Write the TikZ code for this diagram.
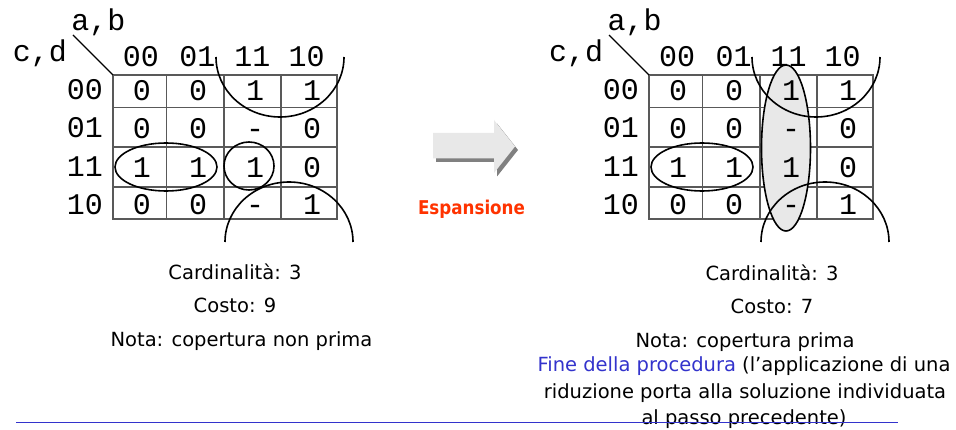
\documentclass[tikz,border=0pt]{standalone}
\usepackage{fontspec}
\setmainfont{DejaVu Sans}
\newfontfamily\monof{Liberation Mono}
\definecolor{ored}{HTML}{FF3300}
\definecolor{fblue}{HTML}{3333CC}
\definecolor{gfill}{HTML}{E8E8E8}
\newcommand\kmapgrid{%
  \draw[gridline] (113,75) rectangle (337,219);
  \foreach \gx in {166.5,224,281} \draw[gridline] (\gx,75) -- (\gx,219);
  \foreach \gy in {107.5,147,187} \draw[gridline] (113,\gy) -- (337,\gy);
}
\newcommand\kmaptext[1]{%
  \foreach \rw/\by/\va/\vb/\vc/\vd in {1/100.7/0/0/1/1, 2/138.3/0/0/-/0, 3/177.3/1/1/1/0, 4/215/0/0/-/1}{
    \node[cellval] (#1c\rw a) at (142,\by) {\va};
    \node[cellval] (#1c\rw b) at (198,\by) {\vb};
    \node[cellval] (#1c\rw c) at (255,\by) {\vc};
    \node[cellval] (#1c\rw d) at (312,\by) {\vd};
  }
  \foreach \rl/\by in {00/100, 01/137.5, 11/176.7, 10/215}
    \node[mlabel, anchor=base east] (#1r\rl) at (103,\by) {\rl};
  \foreach \cl/\cx in {00/141, 01/197.5, 11/252.5, 10/306.5}
    \node[mlabel, anchor=base] (#1h\cl) at (\cx,66.7) {\cl};
  \node[mlabel, anchor=base] (#1ab) at (98.5,31) {a,b};
  \node[mlabel, anchor=base] (#1cd) at (40,61.7) {c,d};
  \coordinate (#1diag) at (73,35);
  \coordinate (#1corner) at (113,75);
  \draw[line width=1.1pt] (#1diag) -- (#1corner);
}
\begin{document}
\begin{tikzpicture}[x=1pt,y=-1pt,
  gridline/.style={draw=black!65, line width=1.4pt},
  cellval/.style={font=\monof\fontsize{30}{30}\selectfont, anchor=base, inner sep=0pt},
  mlabel/.style={font=\monof\fontsize{30}{30}\selectfont, inner sep=0pt},
  ring/.style={draw=black, line width=1.6pt},
  note/.style={font=\fontsize{19.5}{22}\selectfont, anchor=base, inner sep=0pt},
]
\fill[white] (0,0) rectangle (956,430);
\useasboundingbox (0,0) rectangle (956,430);

% ---------- left map ----------
\kmapgrid
\draw[ring] (166,167) ellipse[x radius=51, y radius=24];
\draw[ring] (249,166) ellipse[x radius=25, y radius=24];
\draw[ring] (216,57) arc[start angle=180, end angle=0, x radius=64, y radius=60];
\draw[ring] (225,242) arc[start angle=180, end angle=360, x radius=64, y radius=60];
\kmaptext{L}

% ---------- right map ----------
\begin{scope}[xshift=536pt]
\kmapgrid
\draw[ring, fill=gfill] (250,148) ellipse[x radius=24.5, y radius=83];
\draw[ring] (166,167) ellipse[x radius=51, y radius=24];
\draw[ring] (216,57) arc[start angle=180, end angle=0, x radius=64, y radius=60];
\draw[ring] (225,242) arc[start angle=180, end angle=360, x radius=64, y radius=60];
\kmaptext{R}
\end{scope}

% ---------- arrow ----------
\fill[black!50] (436,136.5) -- (497,136.5) -- (497,123.5) -- (518,150) -- (497,176.5) -- (497,162) -- (436,162) -- cycle;
\fill[gfill] (433,133) -- (494,133) -- (494,120) -- (515,146.5) -- (494,173) -- (494,158.5) -- (433,158.5) -- cycle;
\node[font=\bfseries\fontsize{19}{20}\selectfont, text=ored, anchor=base, inner sep=0pt, xscale=0.88] (esp) at (471.5,215) {Espansione};

% ---------- notes ----------
\node[note] (lcard) at (235,280) {Cardinalità: 3};
\node[note] (lcost) at (235,313) {Costo: 9};
\node[note] (lnota) at (241.5,346.5) {Nota: copertura non prima};

\node[note] (rcard) at (772,281) {Cardinalità: 3};
\node[note] (rcost) at (772,314) {Costo: 7};
\node[note] (rnota) at (745,347.5) {Nota: copertura prima};
\node[note] (rl1) at (744,371.7) {\textcolor{fblue}{Fine della procedura} (l’applicazione di una};
\node[note] (rl2) at (745,398.3) {riduzione porta alla soluzione individuata};
\node[note] (rl3) at (744,424) {al passo precedente)};

\draw[fblue, line width=1.3pt] (16,422.5) -- (898,422.5);
\end{tikzpicture}
\end{document}
